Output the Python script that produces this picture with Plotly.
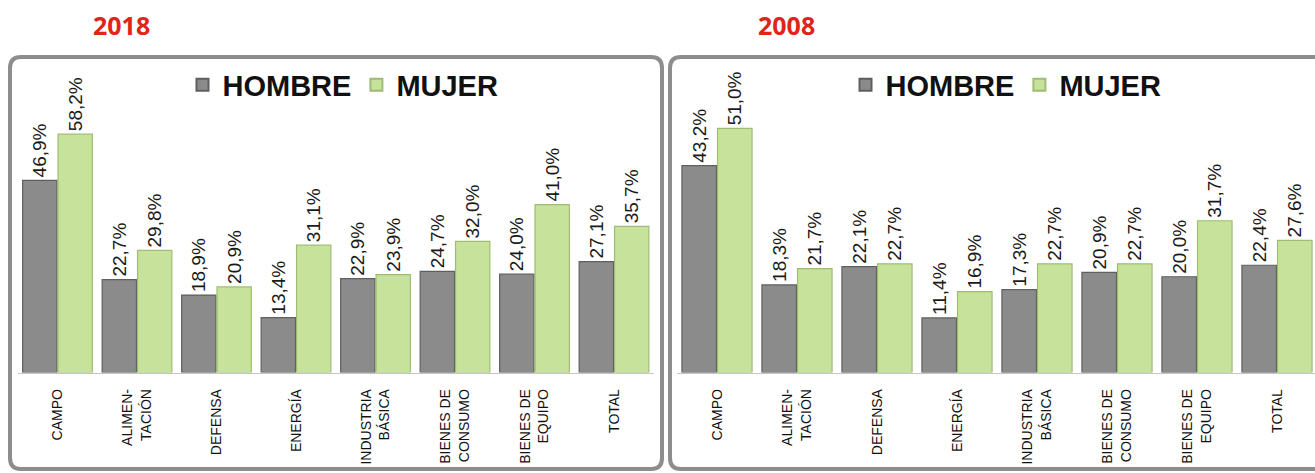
import plotly.graph_objects as go

categories = ["CAMPO", "ALIMEN-<br>TACIÓN", "DEFENSA", "ENERGÍA",
              "INDUSTRIA<br>BÁSICA", "BIENES DE<br>CONSUMO", "BIENES DE<br>EQUIPO", "TOTAL"]
hombre_2018 = [46.9, 22.7, 18.9, 13.4, 22.9, 24.7, 24.0, 27.1]
mujer_2018 = [58.2, 29.8, 20.9, 31.1, 23.9, 32.0, 41.0, 35.7]
hombre_2008 = [43.2, 18.3, 22.1, 11.4, 17.3, 20.9, 20.0, 22.4]
mujer_2008 = [51.0, 21.7, 22.7, 16.9, 22.7, 22.7, 31.7, 27.6]

W, H = 1315, 473
FONT = "Arial, sans-serif"
GRAY = "#8b8b8b"
GREEN = "#c6e29b"


def pct(vals):
    return [f"{v:.1f}%".replace(".", ",") for v in vals]


def px(x):
    return x / W


def py(y):
    return 1 - y / H


fig = go.Figure()

panels = [
    ("x", "y", "legend", hombre_2018, mujer_2018),
    ("x2", "y2", "legend2", hombre_2008, mujer_2008),
]
for xa, ya, lg, hom, muj in panels:
    fig.add_trace(go.Bar(
        x=categories, y=hom, name="HOMBRE", xaxis=xa, yaxis=ya, legend=lg,
        marker=dict(color=GRAY, line=dict(color="#5f5f5f", width=1.2)),
        text=pct(hom), textposition="outside", textangle=-90,
        textfont=dict(family=FONT, size=19, color="#1a1a1a"),
        cliponaxis=False, constraintext="none",
    ))
    fig.add_trace(go.Bar(
        x=categories, y=muj, name="MUJER", xaxis=xa, yaxis=ya, legend=lg,
        marker=dict(color=GREEN, line=dict(color="#9fbd72", width=1.2)),
        text=pct(muj), textposition="outside", textangle=-90,
        textfont=dict(family=FONT, size=19, color="#1a1a1a"),
        cliponaxis=False, constraintext="none",
    ))


def rounded(x0, y0, x1, y1, r=11):
    # rounded rectangle path in paper coordinates
    rx, ry = r / W, r / H
    X0, X1, Y0, Y1 = px(x0), px(x1), py(y1), py(y0)
    return (f"M {X0 + rx},{Y1} L {X1 - rx},{Y1} Q {X1},{Y1} {X1},{Y1 - ry} "
            f"L {X1},{Y0 + ry} Q {X1},{Y0} {X1 - rx},{Y0} "
            f"L {X0 + rx},{Y0} Q {X0},{Y0} {X0},{Y0 + ry} "
            f"L {X0},{Y1 - ry} Q {X0},{Y1} {X0 + rx},{Y1} Z")


shapes = [
    dict(type="path", xref="paper", yref="paper", path=rounded(10, 57, 662, 469),
         line=dict(color="#8d8d8d", width=4), layer="below"),
    dict(type="path", xref="paper", yref="paper", path=rounded(670, 57, 1330, 469),
         line=dict(color="#8d8d8d", width=4), layer="below"),
]

ydom = [py(372.5), py(62)]
xaxis_common = dict(
    showgrid=False, showline=True, linecolor="#c4c4c4", linewidth=1,
    ticks="", tickangle=-90, ticklabelstandoff=10,
    tickfont=dict(family=FONT, size=14, color="#111"),
)
yaxis_common = dict(visible=False, showgrid=False, zeroline=False)

legend_common = dict(
    orientation="h", yanchor="middle", y=py(85), xanchor="center",
    font=dict(family=FONT, size=29, color="#111", weight="bold"),
    bgcolor="rgba(0,0,0,0)", itemsizing="constant",
)

fig.update_layout(
    width=W, height=H,
    margin=dict(l=0, r=0, t=0, b=0),
    paper_bgcolor="white", plot_bgcolor="white",
    barmode="group", bargap=0.11, bargroupgap=0.03,
    xaxis=dict(domain=[px(17.75), px(653.75)], anchor="y", **xaxis_common),
    xaxis2=dict(domain=[px(677), 1.0], anchor="y2", range=[-0.5, 7.475], **xaxis_common),
    yaxis=dict(domain=ydom, range=[0, 310.5 / 4.095], anchor="x", **yaxis_common),
    yaxis2=dict(domain=ydom, range=[0, 310.5 / 4.787], anchor="x2", **yaxis_common),
    legend=dict(x=px(343), **legend_common),
    legend2=dict(x=px(1006), **legend_common),
    shapes=shapes,
    annotations=[
        dict(text="<b>2018</b>", x=px(121), y=py(25), xref="paper", yref="paper",
             xanchor="center", yanchor="middle", showarrow=False,
             font=dict(family="Open Sans, Arial, sans-serif", size=25, color="#e2231a")),
        dict(text="<b>2008</b>", x=px(786), y=py(25), xref="paper", yref="paper",
             xanchor="center", yanchor="middle", showarrow=False,
             font=dict(family="Open Sans, Arial, sans-serif", size=25, color="#e2231a")),
    ],
    showlegend=True,
)

fig.write_html("out.html", config={"displayModeBar": False},
               post_script="document.body.style.margin='0';")
